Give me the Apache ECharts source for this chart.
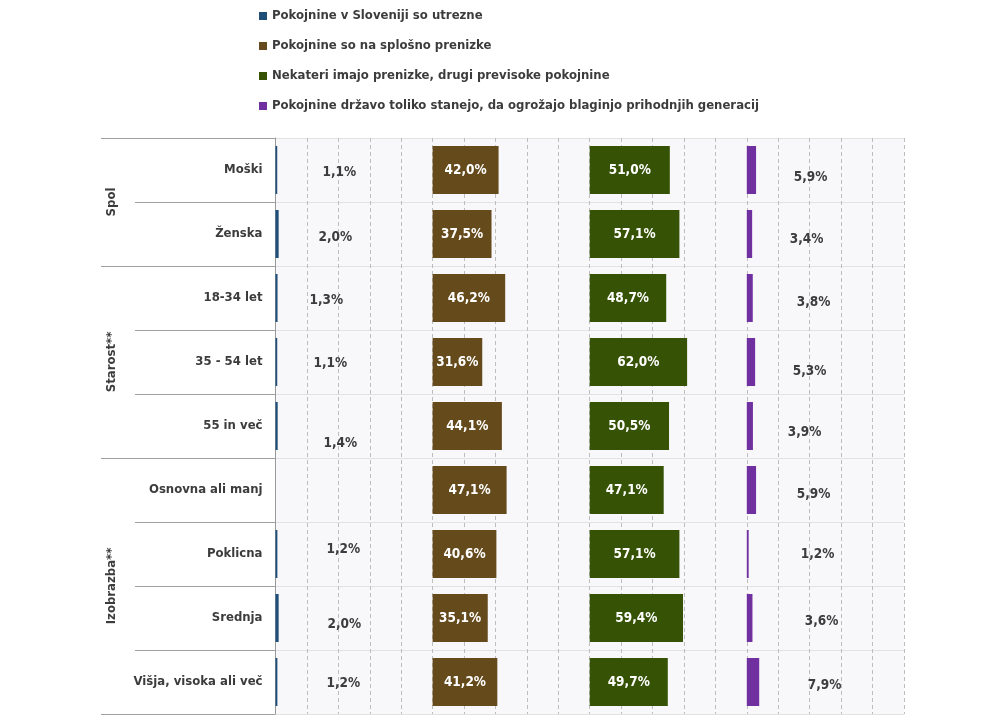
<!DOCTYPE html>
<html>
<head>
<meta charset="utf-8">
<style>
  html, body { margin: 0; padding: 0; background: #fff; }
  #main { width: 998px; height: 720px; }
</style>
<script src="https://cdn.jsdelivr.net/npm/echarts@6/dist/echarts.min.js"></script>
</head>
<body>
<div id="main"></div>
<script>
// podatki
var categories = ['Moški', 'Ženska', '18-34 let', '35 - 54 let', '55 in več',
    'Osnovna ali manj', 'Poklicna', 'Srednja', 'Višja, visoka ali več'];
var groups = ['Spol', 'Starost**', 'Izobrazba**'];
var groupSizes = [2, 3, 4];
var seriesNames = [
    'Pokojnine v Sloveniji so utrezne',
    'Pokojnine so na splošno prenizke',
    'Nekateri imajo prenizke, drugi previsoke pokojnine',
    'Pokojnine državo toliko stanejo, da ogrožajo blaginjo prihodnjih generacij'
];
var utrezne = [1.1, 2.0, 1.3, 1.1, 1.4, null, 1.2, 2.0, 1.2];
var prenizke = [42.0, 37.5, 46.2, 31.6, 44.1, 47.1, 40.6, 35.1, 41.2];
var nekateri = [51.0, 57.1, 48.7, 62.0, 50.5, 47.1, 57.1, 59.4, 49.7];
var stanejo = [5.9, 3.4, 3.8, 5.3, 3.9, 5.9, 1.2, 3.6, 7.9];

// ročno premaknjene oznake (kot v izvirniku)
var nudgeUtrezne = [[42, 2], [38, 3], [29, 2], [33, 1], [43, 17], [0, 0], [46, -5], [47, 6], [46, 1]];
var nudgeStanejo = [[42, 7], [38, 5], [45, 4], [41, 9], [36, 6], [45, 4], [49, 0], [53, 3], [56, 3]];

var colors = ['#1F4E79', '#654A1C', '#355205', '#7030A0'];
var FONT = '"DejaVu Sans Condensed", "Liberation Sans Narrow", sans-serif';
var TXT = '#3C3C3C';

var myChart = echarts.init(document.getElementById('main'));

var gridTop = 138, gridHeight = 576;
var panelLeft = 275.5, panelW = 157.1;

var grids = [
    { left: 101, top: gridTop, width: 34, height: gridHeight, show: false },   // meje skupin
    { left: 135, top: gridTop, width: 140.5, height: gridHeight, show: false }, // kategorije
    { left: 101, top: gridTop, width: 22, height: gridHeight, show: false }     // imena skupin
];
for (var i = 0; i < 4; i++) {
    grids.push({
        left: panelLeft + i * panelW, top: gridTop, width: panelW, height: gridHeight,
        show: true, backgroundColor: '#F8F7FA', borderWidth: 0
    });
}

var xAxes = [
    { gridIndex: 0, type: 'value', min: 0, max: 1, show: false },
    { gridIndex: 1, type: 'value', min: 0, max: 1, show: false },
    { gridIndex: 2, type: 'value', min: 0, max: 1, show: false }
];
var yAxes = [
    { gridIndex: 0, type: 'value', min: 0, max: 9, inverse: true, show: false },
    {
        gridIndex: 1, type: 'category', data: categories, inverse: true,
        axisLine: { show: false }, axisTick: { show: false }, axisLabel: { show: false },
        splitLine: { show: true, lineStyle: { color: '#A0A0A0', width: 1 } }
    },
    { gridIndex: 2, type: 'value', min: 0, max: 9, inverse: true, show: false }
];
for (var j = 0; j < 4; j++) {
    xAxes.push({
        gridIndex: j + 3, type: 'value', min: 0, max: 100, interval: 20,
        axisLine: { show: false }, axisTick: { show: false }, axisLabel: { show: false },
        splitLine: { show: true, lineStyle: { color: '#BDBDBD', type: [4, 3], width: 1 } }
    });
    yAxes.push({
        gridIndex: j + 3, type: 'category', data: categories, inverse: true,
        axisLine: { show: j === 0, lineStyle: { color: '#999', width: 1 } },
        axisTick: { show: false },
        axisLabel: {
            show: j === 0, margin: 13, color: TXT, fontFamily: FONT,
            fontWeight: 'bold', fontSize: 13
        },
        splitLine: { show: true, lineStyle: { color: '#E2E2E2', width: 1 } }
    });
}

// sredine skupin in meje
var groupPoints = [], groupBounds = [{ yAxis: 0 }], acc = 0;
groups.forEach(function (g, k) {
    groupPoints.push({ value: [0.5, acc + groupSizes[k] / 2], name: g });
    acc += groupSizes[k];
    groupBounds.push({ yAxis: acc });
});

function nudged(values, nudge) {
    return values.map(function (v, k) {
        return {
            value: v,
            label: { offset: nudge[k] }
        };
    });
}

var baseLabel = {
    show: true, fontFamily: FONT, fontWeight: 'bold', fontSize: 13.5,
    formatter: function (p) {
        return p.value == null ? '' : p.value.toFixed(1).replace('.', ',') + '%';
    }
};

var series = [
    {
        type: 'line', xAxisIndex: 0, yAxisIndex: 0, data: [], silent: true,
        markLine: {
            silent: true, symbol: 'none', label: { show: false },
            lineStyle: { color: '#A0A0A0', type: 'solid', width: 1 },
            data: groupBounds
        }
    },
    {
        type: 'scatter', xAxisIndex: 2, yAxisIndex: 2, data: groupPoints,
        symbolSize: 0, silent: true, itemStyle: { opacity: 1 },
        label: {
            show: true, formatter: '{b}', rotate: 90,
            color: TXT, fontFamily: FONT, fontWeight: 'bold', fontSize: 13
        }
    },
    {
        name: seriesNames[0], type: 'bar', xAxisIndex: 3, yAxisIndex: 3,
        data: nudged(utrezne, nudgeUtrezne), barCategoryGap: '25%',
        itemStyle: { color: colors[0] },
        label: Object.assign({}, baseLabel, { position: 'insideLeft', color: TXT })
    },
    {
        name: seriesNames[1], type: 'bar', xAxisIndex: 4, yAxisIndex: 4,
        data: prenizke, barCategoryGap: '25%',
        itemStyle: { color: colors[1] },
        label: Object.assign({}, baseLabel, { position: 'inside', color: '#fff' })
    },
    {
        name: seriesNames[2], type: 'bar', xAxisIndex: 5, yAxisIndex: 5,
        data: nekateri, barCategoryGap: '25%',
        itemStyle: { color: colors[2] },
        label: Object.assign({}, baseLabel, { position: 'inside', color: '#fff' })
    },
    {
        name: seriesNames[3], type: 'bar', xAxisIndex: 6, yAxisIndex: 6,
        data: nudged(stanejo, nudgeStanejo), barCategoryGap: '25%',
        itemStyle: { color: colors[3] },
        label: Object.assign({}, baseLabel, { position: 'insideLeft', color: TXT })
    }
];

var option = {
    animation: false,
    color: colors,
    legend: {
        data: seriesNames,
        orient: 'vertical',
        left: 259, top: 8, padding: 0,
        itemWidth: 8, itemHeight: 8, itemGap: 14,
        icon: 'rect',
        textStyle: { color: TXT, fontFamily: FONT, fontWeight: 'bold', fontSize: 13, lineHeight: 16 }
    },
    grid: grids,
    xAxis: xAxes,
    yAxis: yAxes,
    series: series
};

myChart.setOption(option);
window.addEventListener('resize', function () {
    myChart.resize();
});
</script>
</body>
</html>
